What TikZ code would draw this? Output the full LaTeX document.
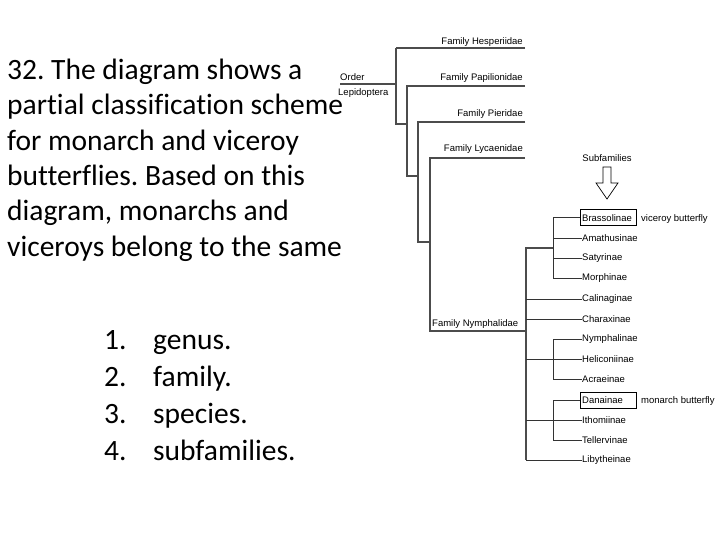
\documentclass[tikz,border=0pt]{standalone}
\usepackage{fontspec}
\setmainfont{Carlito}[Ligatures={NoCommon}]
\newfontfamily\treefont{Liberation Sans}
\frenchspacing
\begin{document}
\begin{tikzpicture}[x=1pt,y=-1pt,
  qline/.style={anchor=base west,inner sep=0pt,font=\fontsize{29.5}{34}\selectfont},
  tl/.style={inner sep=0pt,font=\treefont\fontsize{9.5}{11}\selectfont},
  br/.style={draw=black!70,line width=1.3pt},
  sb/.style={draw=black!80,line width=1pt},
  boxed/.style={draw=black,line width=0.8pt,minimum width=56pt,minimum height=16pt,inner sep=1pt,anchor=west}]
\useasboundingbox (0,0) rectangle (720,540);
\fill[white] (0,0) rectangle (720,540);
% question text
\node[qline] (q1) at (7,80) {32. The diagram shows a};
\node[qline] (q2) at (7,115) {partial classification scheme};
\node[qline] (q3) at (7,150.5) {for monarch and viceroy};
\node[qline] (q4) at (7,186) {butterflies. Based on this};
\node[qline] (q5) at (7,221) {diagram, monarchs and};
\node[qline] (q6) at (7,256.5) {viceroys belong to the same};
\node[qline] (n1) at (104,349) {1.};
\node[qline] (n2) at (104,386) {2.};
\node[qline] (n3) at (104,423) {3.};
\node[qline] (n4) at (104,460) {4.};
\node[qline] (a1) at (153,349) {genus.};
\node[qline] (a2) at (153,386) {family.};
\node[qline] (a3) at (153,423) {species.};
\node[qline] (a4) at (153,460) {subfamilies.};
% tree coordinates
\coordinate (o0) at (340,84);
\coordinate (o1) at (396,84);
\coordinate (v1t) at (396,48);
\coordinate (v1b) at (396,124);
\coordinate (h1) at (525,48);
\coordinate (v2t) at (407,86);
\coordinate (v2b) at (407,176);
\coordinate (h2) at (525,86);
\coordinate (v3t) at (418,122);
\coordinate (v3b) at (418,242);
\coordinate (h3) at (525,122);
\coordinate (v4t) at (430,158);
\coordinate (v4b) at (430,331);
\coordinate (h4) at (525,158);
\coordinate (nym) at (526,331);
\draw[br] (o0) -- (o1);
\draw[br] (v1t) -- (v1b) -- (v2b |- v1b);
\draw[br] (h1) -- (v1t);
\draw[br] (h2) -- (v2t) -- (v2b) -- (v3b |- v2b);
\draw[br] (h3) -- (v3t) -- (v3b) -- (v4b |- v3b);
\draw[br] (h4) -- (v4t) -- (v4b) -- (nym);
% order labels
\node[tl,anchor=base west] (ord) at (340,80.5) {Order};
\node[tl,anchor=north west] (lep) at (338,88) {Lepidoptera};
\node[tl,anchor=base east] (fhes) at (523,45) {Family Hesperiidae};
\node[tl,anchor=base east] (fpap) at (523,81) {Family Papilionidae};
\node[tl,anchor=base east] (fpie) at (523,116.5) {Family Pieridae};
\node[tl,anchor=base east] (flyc) at (523,151.5) {Family Lycaenidae};
\node[tl,anchor=base west] (fnym) at (432,326) {Family Nymphalidae};
% subfamilies
\node[tl,anchor=west] (s1) at (582,218) {Brassolinae};
\node[tl,anchor=west] (s2) at (582,238) {Amathusinae};
\node[tl,anchor=west] (s3) at (582,258) {Satyrinae};
\node[tl,anchor=west] (s4) at (582,278) {Morphinae};
\node[tl,anchor=west] (s5) at (582,299) {Calinaginae};
\node[tl,anchor=west] (s6) at (582,319) {Charaxinae};
\node[tl,anchor=west] (s7) at (582,339) {Nymphalinae};
\node[tl,anchor=west] (s8) at (582,359) {Heliconiinae};
\node[tl,anchor=west] (s9) at (582,379) {Acraeinae};
\node[tl,anchor=west] (s10) at (582,400) {Danainae};
\node[tl,anchor=west] (s11) at (582,420) {Ithomiinae};
\node[tl,anchor=west] (s12) at (582,440) {Tellervinae};
\node[tl,anchor=west] (s13) at (582,460) {Libytheinae};
\node[boxed] (bx1) at (580,217) {};
\node[boxed] (bx2) at (580,400) {};
\node[tl,anchor=west] (vic) at (641,219) {viceroy butterfly};
\node[tl,anchor=west] (mon) at (641,401) {monarch butterfly};
\node[tl] (subf) at (607,158) {Subfamilies};
% hollow arrow
\draw[black,line width=0.7pt] (603,167) -- (611,167) -- (611,183) -- (618,183) -- (607,199) -- (596,183) -- (603,183) -- cycle;
% subfamily tree
\coordinate (m) at (526,248);
\coordinate (mb) at (526,460);
\draw[br] (nym) -- (m) -- (553,248);
\draw[br] (nym) -- (mb);
\draw[sb] (553,218) -- (553,278);
\draw[sb] (553,218) -- (bx1.west |- s1.west);
\draw[sb] (553,238) -- (s2.west);
\draw[sb] (553,258) -- (s3.west);
\draw[sb] (553,278) -- (s4.west);
\draw[sb] (526,299) -- (s5.west);
\draw[sb] (526,319) -- (s6.west);
\draw[sb] (553,339) -- (553,379);
\draw[sb] (553,339) -- (s7.west);
\draw[sb] (526,359) -- (s8.west);
\draw[sb] (553,379) -- (s9.west);
\draw[sb] (553,400) -- (553,440);
\draw[sb] (553,400) -- (bx2.west);
\draw[sb] (526,420) -- (s11.west);
\draw[sb] (553,440) -- (s12.west);
\draw[sb] (526,460) -- (s13.west);
\end{tikzpicture}
\end{document}
